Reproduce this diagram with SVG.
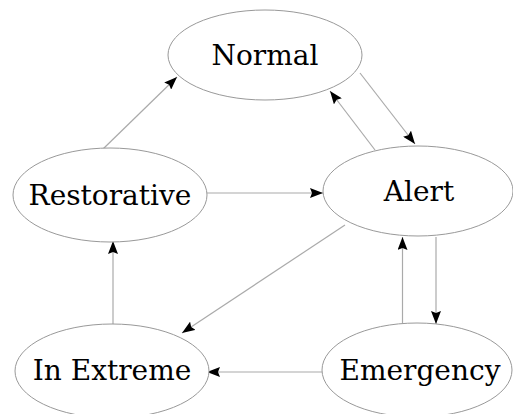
<svg xmlns="http://www.w3.org/2000/svg" width="513" height="414" viewBox="0 0 513 414">
<style>
.node ellipse{fill:#fff;stroke:#999;stroke-width:1}
.node text{font-family:"DejaVu Serif",serif;font-size:28px;fill:#000;text-anchor:middle}
.edge{stroke:#aaa;stroke-width:1.2;fill:none;marker-end:url(#ah)}
</style>
<defs>
<marker id="ah" markerUnits="userSpaceOnUse" markerWidth="13" markerHeight="10" refX="13" refY="5" orient="auto">
<path d="M0,0 L13,5 L0,10 L2,5 z" fill="#000"/>
</marker>
</defs>
<rect width="513" height="414" fill="#fff"/>
<g id="connectors">
<line class="edge" x1="103" y1="149" x2="177" y2="77"/>
<line class="edge" x1="360" y1="73" x2="415" y2="144"/>
<line class="edge" x1="375" y1="150" x2="330" y2="91"/>
<line class="edge" x1="207" y1="193" x2="323" y2="193"/>
<line class="edge" x1="345" y1="225" x2="182" y2="333"/>
<line class="edge" x1="113" y1="325" x2="113" y2="241"/>
<line class="edge" x1="402.5" y1="323" x2="402.5" y2="237"/>
<line class="edge" x1="436" y1="237" x2="436" y2="324"/>
<line class="edge" x1="323" y1="372" x2="207" y2="372"/>
</g>
<g id="normal" class="node"><ellipse cx="265" cy="55" rx="97" ry="45"/><text x="265" y="65">Normal</text></g>
<g id="alert" class="node"><ellipse cx="418" cy="191" rx="95" ry="45"/><text x="419" y="201">Alert</text></g>
<g id="restorative" class="node"><ellipse cx="110" cy="195" rx="97" ry="47"/><text x="110" y="205">Restorative</text></g>
<g id="inextreme" class="node"><ellipse cx="112" cy="371" rx="97" ry="47"/><text x="112" y="380">In Extreme</text></g>
<g id="emergency" class="node"><ellipse cx="417" cy="370" rx="95" ry="47"/><text x="420" y="380">Emergency</text></g>
</svg>
